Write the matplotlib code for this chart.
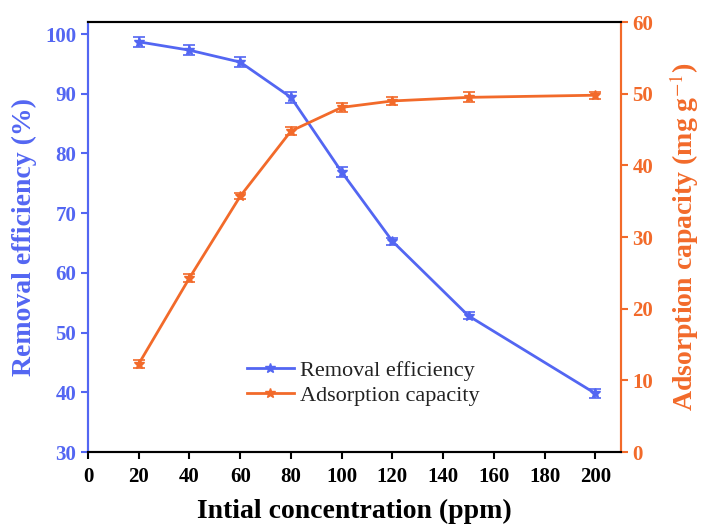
import numpy as np
import matplotlib.pyplot as plt
from matplotlib.lines import Line2D

# datos
conc = [20, 40, 60, 80, 100, 120, 150, 200]
removal = [98.7, 97.3, 95.3, 89.4, 76.9, 65.3, 52.8, 39.8]
removal_err = [0.8, 0.8, 0.8, 0.9, 0.8, 0.6, 0.6, 0.7]
capacity = [12.3, 24.3, 35.7, 44.8, 48.1, 49.0, 49.5, 49.8]
capacity_err = [0.6, 0.6, 0.4, 0.5, 0.6, 0.6, 0.7, 0.5]

azul = "#5366f2"
naranja = "#f26a2a"

plt.rcParams["font.family"] = "Liberation Serif"
plt.rcParams["mathtext.fontset"] = "stix"

fig = plt.figure(figsize=(7.07, 5.27), dpi=100)
ax1 = fig.add_axes([0.1245, 0.1423, 0.7535, 0.8157])
ax2 = ax1.twinx()

ax1.errorbar(conc, removal, yerr=removal_err, color=azul, marker="*",
             markersize=7, lw=2, capsize=4, capthick=1.2, elinewidth=1.2)
ax2.errorbar(conc, capacity, yerr=capacity_err, color=naranja, marker="*",
             markersize=7, lw=2, capsize=4, capthick=1.2, elinewidth=1.2)

ax1.set_xlim(0, 210)
ax1.set_ylim(30, 102)
ax2.set_ylim(0, 60)
ax1.set_xticks(range(0, 201, 20))
ax1.set_yticks(range(30, 101, 10))
ax2.set_yticks(range(0, 61, 10))

for a in (ax1, ax2):
    for s in ("top", "bottom", "left", "right"):
        a.spines[s].set_linewidth(1.5)
    a.spines["top"].set_color("black")
    a.spines["bottom"].set_color("black")
    a.spines["left"].set_color(azul)
    a.spines["right"].set_color(naranja)

ax1.tick_params(axis="x", direction="out", length=5, width=1.5, labelsize=15, pad=6)
ax1.tick_params(axis="y", direction="out", length=5, width=1.5, colors=azul, labelsize=15)
ax2.tick_params(axis="y", direction="out", length=5, width=1.5, colors=naranja, labelsize=15)
for lab in ax1.get_xticklabels() + ax1.get_yticklabels() + ax2.get_yticklabels():
    lab.set_fontweight("bold")

ax1.set_xlabel("Intial concentration (ppm)", fontsize=20, fontweight="bold", labelpad=8)
ax1.set_ylabel("Removal efficiency (%)", fontsize=20, fontweight="bold", color=azul,
               labelpad=6)
ax2.set_ylabel("Adsorption capacity (mg g$^{-1}$)", fontsize=20,
               fontweight="bold", color=naranja, labelpad=10)

handles = [Line2D([], [], color=azul, lw=2, marker="*", markersize=7),
           Line2D([], [], color=naranja, lw=2, marker="*", markersize=7)]
ax1.legend(handles, ["Removal efficiency", "Adsorption capacity"],
           loc="upper left", bbox_to_anchor=(0.261, 0.26), frameon=False,
           fontsize=16, handlelength=2.1, handletextpad=0.3, labelspacing=0.2,
           labelcolor="#222222")

fig.savefig("out.png", dpi=100)
